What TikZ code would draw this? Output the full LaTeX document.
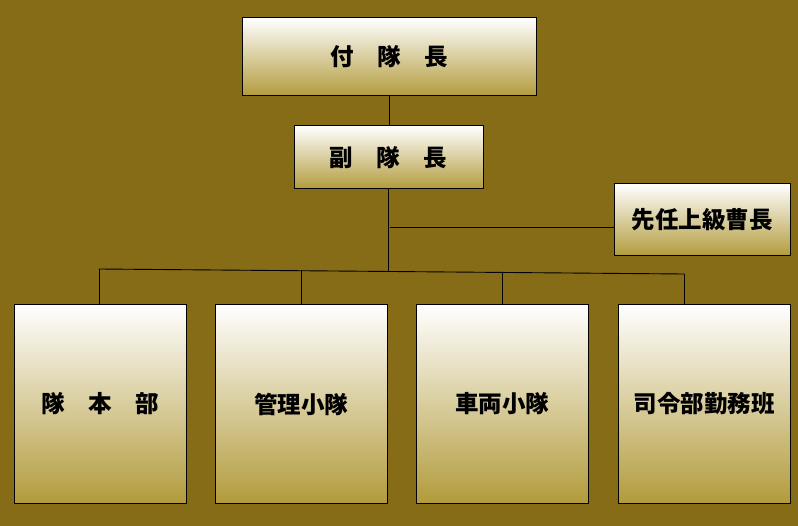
\documentclass[tikz,border=0pt]{standalone}
\usepackage{fontspec}
\newfontfamily\cjk{Noto Sans CJK JP}
\definecolor{bgolive}{RGB}{134,108,23}
\definecolor{boxgold}{RGB}{178,155,60}
\begin{document}
\begin{tikzpicture}[x=1pt,y=-1pt,
  orgbox/.style={draw=black,line width=1pt,rectangle,inner sep=0pt,
    top color=white,bottom color=boxgold,
    font=\cjk\bfseries\fontsize{23.5}{28}\selectfont,text=black},
  link/.style={draw=black,line width=0.9pt}]
\fill[bgolive] (0,0) rectangle (798,526);
\useasboundingbox (0,0) rectangle (798,526);
\node[orgbox,minimum width=294pt,minimum height=78pt] (top) at (389,57) {付　隊　長};
\node[orgbox,minimum width=189pt,minimum height=63pt] (vice) at (388.5,157.5) {副　隊　長};
\node[orgbox,minimum width=176pt,minimum height=72pt] (senior) at (702,220) {先任上級曹長};
\node[orgbox,minimum width=172pt,minimum height=198pt] (b1) at (100,404) {隊　本　部};
\node[orgbox,minimum width=172pt,minimum height=198pt] (b2) at (301,404) {管理小隊};
\node[orgbox,minimum width=172pt,minimum height=198pt] (b3) at (502,404) {車両小隊};
\node[orgbox,minimum width=172pt,minimum height=198pt] (b4) at (704,404) {司令部勤務班};
\coordinate (jv) at (388,271);
\coordinate (jh) at (390,227);
\coordinate (j1) at (99,269);
\coordinate (j2) at (301,270.5);
\coordinate (j3) at (502,272.5);
\coordinate (j4) at (684,274);
\draw[link] (top.south -| 389,0) -- (vice.north -| 389,0);
\draw[link] (vice.south -| jv) -- (jv);
\draw[link] (j1) -- (j4);
\draw[link] (jh) -- (jh -| senior.west);
\draw[link] (j1) -- (b1.north -| j1);
\draw[link] (j2) -- (b2.north -| j2);
\draw[link] (j3) -- (b3.north -| j3);
\draw[link] (j4) -- (b4.north -| j4);
\end{tikzpicture}
\end{document}
